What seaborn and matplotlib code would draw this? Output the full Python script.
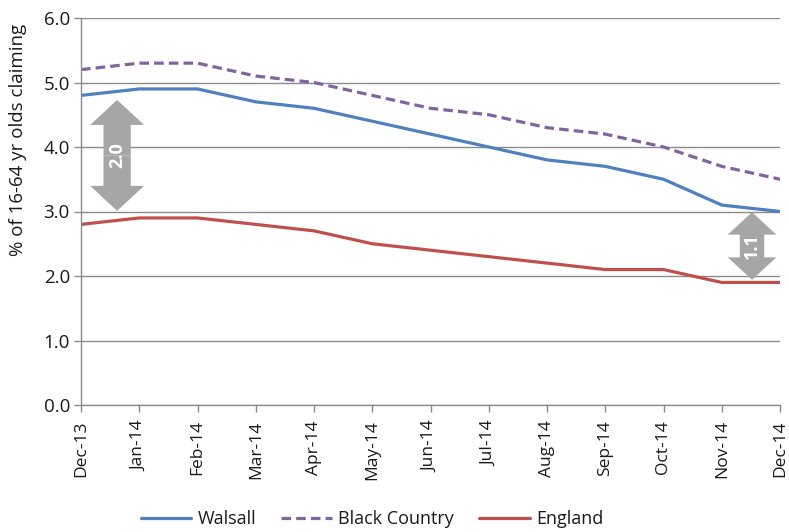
import matplotlib
matplotlib.use("Agg")
import matplotlib.pyplot as plt
import seaborn as sns
import pandas as pd
from matplotlib.patches import FancyArrowPatch
from matplotlib.lines import Line2D

months = ["Dec-13", "Jan-14", "Feb-14", "Mar-14", "Apr-14", "May-14", "Jun-14",
          "Jul-14", "Aug-14", "Sep-14", "Oct-14", "Nov-14", "Dec-14"]
walsall = [4.8, 4.9, 4.9, 4.7, 4.6, 4.4, 4.2, 4.0, 3.8, 3.7, 3.5, 3.1, 3.0]
black_country = [5.2, 5.3, 5.3, 5.1, 5.0, 4.8, 4.6, 4.5, 4.3, 4.2, 4.0, 3.7, 3.5]
england = [2.8, 2.9, 2.9, 2.8, 2.7, 2.5, 2.4, 2.3, 2.2, 2.1, 2.1, 1.9, 1.9]
series_names = ["Walsall", "Black Country", "England"]
gap_labels = ["2.0", "1.1"]

colors = {"Walsall": "#4F81BD", "Black Country": "#8064A2", "England": "#C0504D"}
dashes = {"Walsall": "", "Black Country": (3, 1.6), "England": ""}

rows = []
for name, vals in zip(series_names, [walsall, black_country, england]):
    for i, v in enumerate(vals):
        rows.append({"pos": i, "value": v, "series": name})
df = pd.DataFrame(rows)

sns.set_theme(style="white")
plt.rcParams["font.family"] = ["Open Sans", "DejaVu Sans"]

fig = plt.figure(figsize=(7.89, 5.32), dpi=100)
ax = fig.add_axes([81 / 789, 1 - 405 / 532, 699 / 789, 387 / 532])

sns.lineplot(data=df, x="pos", y="value", hue="series", style="series",
             palette=colors, dashes=dashes, linewidth=2.3, ax=ax, legend=False)

ax.set_xlim(0, len(months) - 1)
ax.set_ylim(0, 6)
ax.set_yticks([0, 1, 2, 3, 4, 5, 6])
ax.set_yticklabels([f"{v:.1f}" for v in range(7)], fontsize=13.5, color="#1a1a1a")
ax.set_xticks(range(len(months)))
ax.set_xticklabels(months, rotation=90, fontsize=12.5, color="#1a1a1a")
ax.set_xlabel("")
ax.set_ylabel("")
fig.text(18 / 789, 1 - 140 / 532, "% of 16-64 yr olds claiming", rotation=90,
         ha="center", va="center", fontsize=13.5, color="#1a1a1a")

ax.yaxis.grid(True, color="#8c8c8c", linewidth=1)
ax.set_axisbelow(True)
for s in ["top", "right"]:
    ax.spines[s].set_visible(False)
for s in ["left", "bottom"]:
    ax.spines[s].set_color("#8c8c8c")
    ax.spines[s].set_linewidth(1)
ax.tick_params(axis="both", which="both", direction="out", length=5,
               color="#8c8c8c", width=1, left=True, bottom=True)
ax.tick_params(axis="x", pad=6)
ax.tick_params(axis="y", pad=3)

# double-headed gap arrows drawn as two outward "simple" arrows
def gap_arrow(x, y_top, y_bot, label, scale):
    mid = (y_top + y_bot) / 2
    style = "simple,head_length=0.45,head_width=0.97,tail_width=0.49"
    for end in (y_top, y_bot):
        ax.add_patch(FancyArrowPatch((x, mid), (x, end), arrowstyle=style,
                                     mutation_scale=scale, color="#a6a6a6",
                                     lw=0, shrinkA=0, shrinkB=0, zorder=4))
    ax.text(x, mid, label, rotation=90, ha="center", va="center",
            color="white", fontsize=13, fontweight="bold", zorder=5)

gap_arrow(0.62, 4.73, 3.01, gap_labels[0], 40)
gap_arrow(11.52, 2.99, 1.94, gap_labels[1], 36)

handles = [Line2D([], [], color=colors[n], lw=2.3) for n in series_names]
handles[1].set_dashes((3, 1.6))
fig.legend(handles, series_names, loc="center", bbox_to_anchor=(372 / 789, 1 - 519 / 532),
           ncol=3, frameon=False, fontsize=13, handlelength=2.8, columnspacing=1.4,
           handletextpad=0.35, labelcolor="#1a1a1a")

fig.savefig("out.png", dpi=100)
